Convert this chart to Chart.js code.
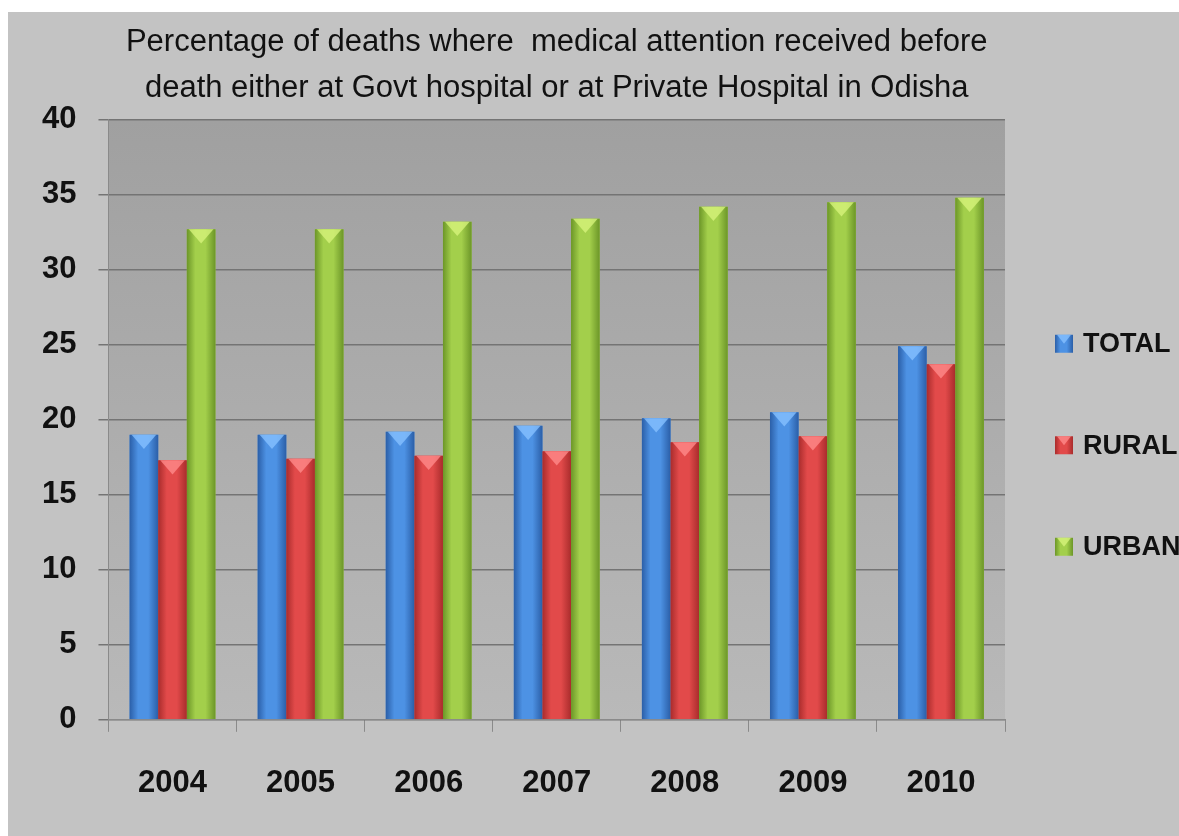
<!DOCTYPE html>
<html>
<head>
<meta charset="utf-8">
<script src="https://cdn.jsdelivr.net/npm/chart.js@4"></script>
<style>
  html, body { margin: 0; padding: 0; background: #fff; }
  #wrap { position: absolute; left: 8px; top: 12px; width: 1171px; height: 824px; background: #c3c3c3; }
</style>
</head>
<body>
<div id="wrap"><canvas id="chart" width="1171" height="824"></canvas></div>
<script>
const years = ['2004', '2005', '2006', '2007', '2008', '2009', '2010']
const total = [19.0, 19.0, 19.2, 19.6, 20.1, 20.5, 24.9]
const rural = [17.3, 17.4, 17.6, 17.9, 18.5, 18.9, 23.7]
const urban = [32.7, 32.7, 33.2, 33.4, 34.2, 34.5, 34.8]
const yTicks = [0, 5, 10, 15, 20, 25, 30, 35, 40]

const titleLines = [
  'Percentage of deaths where  medical attention received before',
  'death either at Govt hospital or at Private Hospital in Odisha'
]

const tickFont = { family: '"Liberation Sans", Arial, sans-serif', size: 31, weight: 'bold' }

// dark edge / light middle / top bevel for each series
const shades = [
  { dark: '#2b5fa8', light: '#4d92e4', top: '#86c0ff' },
  { dark: '#a92c2c', light: '#e24a4a', top: '#ff8a8a' },
  { dark: '#6c9628', light: '#a3cf4b', top: '#d6f27a' }
]

function paintBar(ctx, x, top, w, bottom, s) {
  const left = x - w / 2
  const g = ctx.createLinearGradient(left, 0, left + w, 0)
  g.addColorStop(0, s.dark)
  g.addColorStop(0.3, s.light)
  g.addColorStop(0.65, s.light)
  g.addColorStop(1, s.dark)
  ctx.fillStyle = g
  ctx.fillRect(left, top, w, bottom - top)
  // bevelled top
  const b = Math.min(w * 0.5, (bottom - top) / 2)
  ctx.fillStyle = s.top
  ctx.globalAlpha = 0.8
  ctx.beginPath()
  ctx.moveTo(left + 2, top)
  ctx.lineTo(left + w - 2, top)
  ctx.lineTo(x, top + b)
  ctx.closePath()
  ctx.fill()
  ctx.globalAlpha = 1
}

const plotBg = {
  id: 'plotBg',
  beforeDraw(chart) {
    const { ctx, chartArea: a } = chart
    const g = ctx.createLinearGradient(0, a.top, 0, a.bottom)
    g.addColorStop(0, '#a0a0a0')
    g.addColorStop(1, '#b9b9b9')
    ctx.save()
    ctx.fillStyle = g
    ctx.fillRect(a.left, a.top, a.right - a.left, a.bottom - a.top)
    ctx.restore()
  }
}

const barShine = {
  id: 'barShine',
  afterDatasetsDraw(chart) {
    const ctx = chart.ctx
    ctx.save()
    chart.data.datasets.forEach((ds, i) => {
      chart.getDatasetMeta(i).data.forEach(el => {
        const p = el.getProps(['x', 'y', 'base', 'width'], true)
        paintBar(ctx, p.x, p.y, p.width, p.base, shades[i])
      })
    })
    ctx.restore()
  }
}

const sideLegend = {
  id: 'sideLegend',
  afterDraw(chart) {
    const { ctx, chartArea: a } = chart
    ctx.save()
    ctx.font = 'bold 27px "Liberation Sans", Arial, sans-serif'
    ctx.textBaseline = 'middle'
    chart.data.datasets.forEach((ds, i) => {
      const cy = a.top + 224 + i * 101.5
      const bx = a.right + 50
      paintBar(ctx, bx + 9, cy - 9, 18, cy + 9, shades[i])
      ctx.fillStyle = '#111'
      ctx.fillText(ds.label, bx + 28, cy + 1)
    })
    ctx.restore()
  }
}

new Chart(document.getElementById('chart'), {
  type: 'bar',
  data: {
    labels: years,
    datasets: [
      { label: 'TOTAL', data: total, backgroundColor: shades[0].light },
      { label: 'RURAL', data: rural, backgroundColor: shades[1].light },
      { label: 'URBAN', data: urban, backgroundColor: shades[2].light }
    ]
  },
  options: {
    responsive: false,
    animation: false,
    categoryPercentage: 0.67,
    barPercentage: 1,
    layout: { padding: { left: 12, right: 174, top: 0, bottom: 1 } },
    plugins: {
      legend: { display: false },
      tooltip: { enabled: false },
      title: {
        display: true,
        fullSize: false,
        text: titleLines,
        color: '#111',
        font: { family: '"Liberation Sans", Arial, sans-serif', size: 31, weight: 'normal', lineHeight: 1.48 },
        padding: { top: 8, bottom: 8 }
      }
    },
    scales: {
      x: {
        grid: { drawOnChartArea: false, drawTicks: true, tickLength: 12, color: '#8a8a8a' },
        border: { color: '#8a8a8a' },
        ticks: { color: '#111', font: tickFont, padding: 33 }
      },
      y: {
        min: 0,
        max: 40,
        afterBuildTicks: axis => { axis.ticks = yTicks.map(v => ({ value: v })) },
        grid: { color: '#747474', lineWidth: 1.5, tickLength: 10 },
        border: { color: '#8a8a8a' },
        ticks: { color: '#111', font: tickFont, padding: 22 }
      }
    }
  },
  plugins: [plotBg, barShine, sideLegend]
})
</script>
</body>
</html>
